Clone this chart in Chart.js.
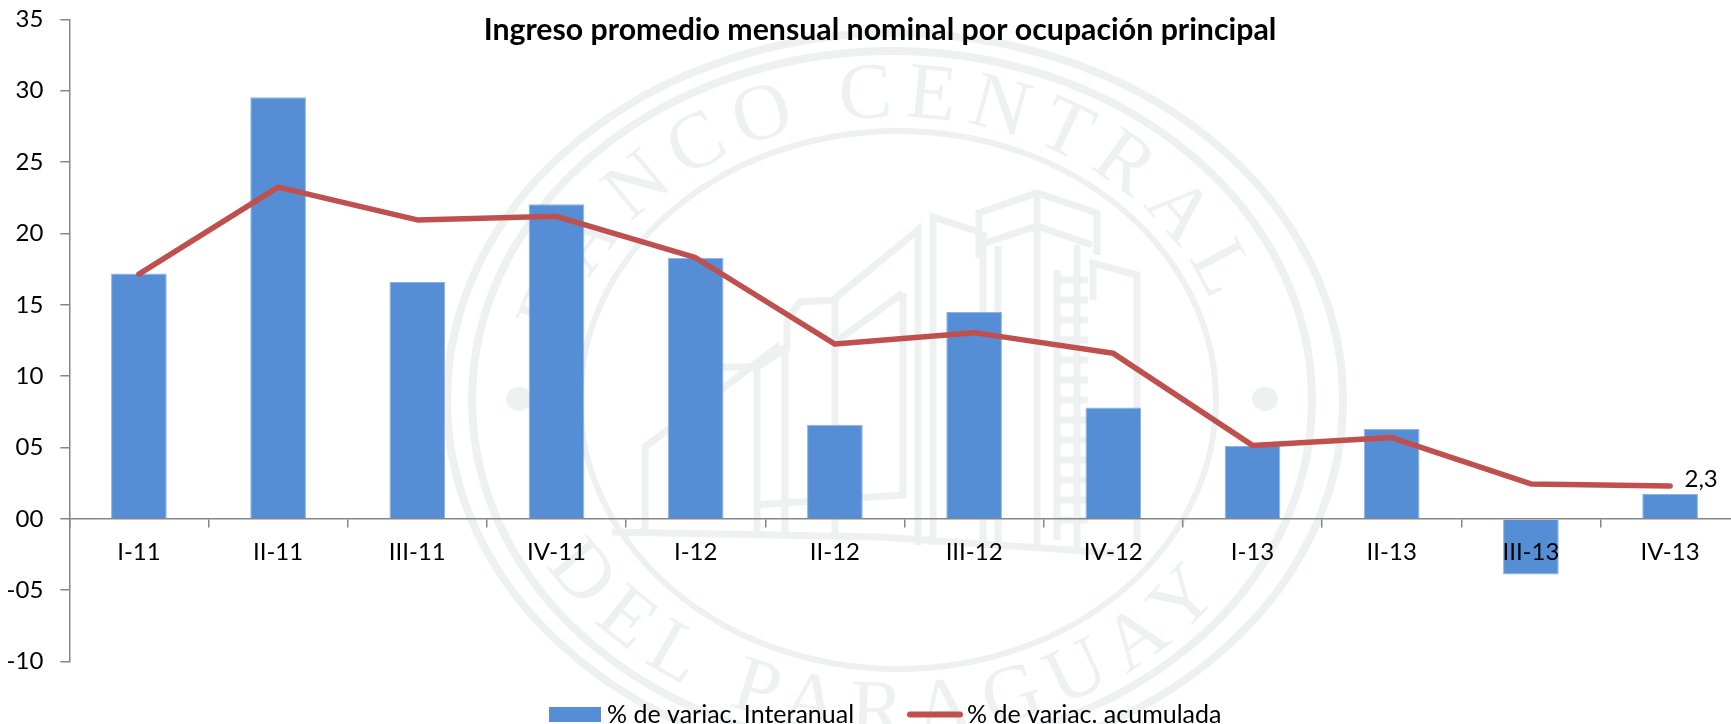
<!DOCTYPE html>
<html><head><meta charset="utf-8">
<script src="https://cdn.jsdelivr.net/npm/chart.js@4"></script>
<style>
html,body{margin:0;padding:0;background:#fff;overflow:hidden}
#wrap{position:relative;width:1731px;height:724px;overflow:hidden;background:#fff}
#seal{position:absolute;left:0;top:0}
#c{position:absolute;left:0;top:0}
</style></head><body>
<div id="wrap">
<svg id="seal" width="1731" height="724" viewBox="0 0 1731 724" xmlns="http://www.w3.org/2000/svg">
 <defs>
  <path id="topArc" d="M 558 400 A 337 283 0 0 1 1232 400"/>
  <path id="botArc" d="M 495 400 A 400 335 0 0 0 1295 400"/>
 </defs>
 <g fill="none" stroke="#EDF1F2" stroke-width="7">
  <ellipse cx="895" cy="400" rx="448" ry="367" stroke-width="8"/>
  <ellipse cx="892" cy="400" rx="420" ry="349" stroke-width="8"/>
  <ellipse cx="898" cy="400" rx="318" ry="269" stroke-width="6"/>
  <polyline points="979,258 979,213 1037,193 1097,213 1097,255"/>
  <polyline points="985,243 1037,226 1092,245"/>
  <line x1="1037" y1="193" x2="1037" y2="545"/>
  <polyline points="979,232 933,217 933,545"/>
  <line x1="983" y1="232" x2="983" y2="548"/>
  <line x1="998" y1="246" x2="998" y2="548"/>
  <polyline points="918,545 918,230 833,300 800,302 787,320 787,348 757,367 722,367"/>
  <polyline points="903,293 838,340"/>
  <polyline points="903,293 903,495 755,505"/>
  <line x1="835" y1="300" x2="835" y2="535"/>
  <line x1="757" y1="367" x2="757" y2="535"/>
  <line x1="785" y1="345" x2="785" y2="535"/>
  <polyline points="780,345 645,447 645,535"/>
  <polyline points="612,532 880,537 1115,553"/>
  <polyline points="1093,300 1093,263 1137,275 1137,545"/>
  <polyline points="1077,245 1077,550"/>
  <path d="M1057 270V540M1057 280H1088M1057 300H1088M1057 320H1088M1057 340H1088M1057 360H1088M1057 380H1088M1057 400H1088M1057 420H1088M1057 440H1088M1057 460H1088M1057 480H1088M1057 500H1088M1057 520H1088"/>
 </g>
 <ellipse cx="519" cy="399" rx="13" ry="12" fill="#EDF1F2"/>
 <ellipse cx="1265" cy="399" rx="13" ry="12" fill="#EDF1F2"/>
 <g fill="#EDF1F2" font-family="Liberation Serif" font-size="80">
  <text letter-spacing="12" text-anchor="middle"><textPath href="#topArc" startOffset="48.5%">BANCO CENTRAL</textPath></text>
  <text letter-spacing="15" text-anchor="middle"><textPath href="#botArc" startOffset="49%">DEL PARAGUAY</textPath></text>
 </g>
</svg>
<canvas id="c" width="1760" height="724"></canvas>
</div>
<script>
const categories = ["I-11","II-11","III-11","IV-11","I-12","II-12","III-12","IV-12","I-13","II-13","III-13","IV-13"];
const interanual = [17.2,29.55,16.6,22.05,18.3,6.6,14.5,7.8,5.1,6.3,-3.9,1.75];
const acumulada = [17.15,23.25,20.95,21.2,18.3,12.25,13.05,11.6,5.15,5.7,2.45,2.3];
const yTickLabels = {"35":"35","30":"30","25":"25","20":"20","15":"15","10":"10","5":"05","0":"00","-5":"-05","-10":"-10"};
const titleText = "Ingreso promedio mensual nominal por ocupación principal";
const seriesNames = ["% de variac. Interanual","% de variac. acumulada"];
const lastLabel = "2,3";

const FONT = "Lato, Carlito, Calibri, sans-serif";
const AXIS = "#868686", BLUE = "#558ED5", RED = "#C0504D";

const lastPointLabel = {
  id:"lastPointLabel",
  afterDatasetsDraw(chart){
    const m = chart.getDatasetMeta(1).data;
    const p = m[m.length-1];
    const c = chart.ctx;
    c.save();
    c.font = "24px "+FONT; c.fillStyle="#000"; c.textAlign="center"; c.textBaseline="middle";
    c.fillText(lastLabel, p.x+31, p.y-7);
    c.restore();
  }
};
const sideLegend = {
  id:"sideLegend",
  afterDraw(chart){
    const c = chart.ctx, y = 714.5;
    c.save();
    c.font = "25px "+FONT; c.textAlign="left"; c.textBaseline="middle";
    c.fillStyle = chart.data.datasets[0].backgroundColor; c.fillRect(549,707,52,15);
    c.fillStyle = "#000"; c.fillText(chart.data.datasets[0].label, 607, y);
    c.strokeStyle = chart.data.datasets[1].borderColor; c.lineWidth = 6; c.lineCap="round";
    c.beginPath(); c.moveTo(910,714.5); c.lineTo(960,714.5); c.stroke();
    c.fillText(chart.data.datasets[1].label, 967, y);
    c.restore();
  }
};
const titleShift = {
  id:"titleShift",
  afterLayout(chart){
    const t = chart.titleBlock;
    t.left += 10.15; t.right += 10.15;
  }
};

new Chart(document.getElementById("c"),{
  data:{
    labels:categories,
    datasets:[
      {type:"bar",label:seriesNames[0],data:interanual,backgroundColor:BLUE,borderColor:"#8DB3E2",borderWidth:1,
       barPercentage:0.4,categoryPercentage:1,order:2},
      {type:"line",label:seriesNames[1],data:acumulada,borderColor:RED,backgroundColor:RED,borderWidth:5.5,
       pointRadius:0,tension:0,borderCapStyle:"round",borderJoinStyle:"round",order:1,fill:false}
    ]
  },
  plugins:[titleShift,lastPointLabel,sideLegend],
  options:{
    responsive:false,animation:false,devicePixelRatio:1,
    layout:{autoPadding:false,padding:{left:0,top:0,right:20.3,bottom:62.4}},
    plugins:{
      legend:{display:false},tooltip:{enabled:false},
      title:{display:true,text:titleText,color:"#000",align:"center",
        font:{family:FONT,size:30.3,weight:"bold",lineHeight:1.2},
        padding:{top:12,bottom:-28.96}}
    },
    scales:{
      x:{position:{y:0},offset:true,
        grid:{drawOnChartArea:false,offset:true,drawTicks:true,tickLength:8,color:AXIS,lineWidth:1.5},
        border:{color:AXIS,width:1.5,z:1},
        ticks:{z:1,color:"#000",font:{family:FONT,size:24},padding:11,maxRotation:0,autoSkip:false}},
      y:{min:-10,max:35,
        afterFit(s){s.width=69.3;s.paddingTop=0;s.paddingBottom=0;},
        grid:{drawOnChartArea:false,drawTicks:true,tickLength:9,color:AXIS,lineWidth:1.5},
        border:{color:AXIS,width:1.5},
        ticks:{stepSize:5,color:"#000",font:{family:FONT,size:24},padding:17,
          callback:v=>yTickLabels[String(v)]}}
    }
  }
});
</script>
</body></html>
